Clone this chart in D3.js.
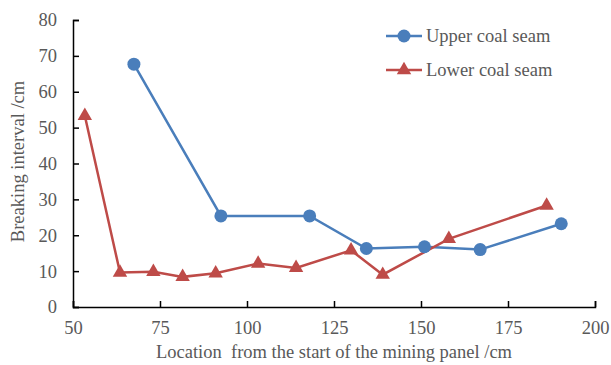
<!DOCTYPE html>
<html>
<head>
<meta charset="utf-8">
<script src="https://cdn.jsdelivr.net/npm/d3@7"></script>
<style>
  body { margin: 0; background: #fff; }
  svg text { font-family: "Liberation Serif", "Times New Roman", Times, "DejaVu Serif", serif; fill: #595959; }
</style>
</head>
<body>
<div id="chart"></div>
<script>
// data
var upperX = [67.5, 92.5, 118, 134.3, 151, 167, 190.3];
var upperY = [67.7, 25.4, 25.4, 16.3, 16.8, 16.0, 23.2];
var lowerX = [53.4, 63.5, 73.1, 81.5, 91, 103.2, 114.1, 129.9, 139, 158, 186.1];
var lowerY = [53.3, 9.6, 9.8, 8.4, 9.4, 12.1, 10.9, 15.8, 9.0, 19.0, 28.3];
var xTicks = [50, 75, 100, 125, 150, 175, 200];
var yTicks = [0, 10, 20, 30, 40, 50, 60, 70, 80];

var svgWidth = 611, svgHeight = 365;
var margin = { top: 20, right: 16, bottom: 58, left: 73 };
var width = svgWidth - margin.left - margin.right;
var height = svgHeight - margin.top - margin.bottom;
var fontSize = "18.5px";

var svg = d3.select("#chart").append("svg")
  .attr("width", svgWidth)
  .attr("height", svgHeight);

var chartGroup = svg.append("g")
  .attr("transform", `translate(${margin.left}, ${margin.top})`);

var x = d3.scaleLinear().domain([50, 200]).range([0, width]);
var y = d3.scaleLinear().domain([0, 80]).range([height, 0]);

// axes with inward ticks
var xAxis = chartGroup.append("g")
  .attr("transform", `translate(0, ${height})`)
  .call(d3.axisBottom(x).tickValues(xTicks).tickSizeInner(-6).tickSizeOuter(-6).tickPadding(14));
var yAxis = chartGroup.append("g")
  .call(d3.axisLeft(y).tickValues(yTicks).tickSizeInner(-6).tickSizeOuter(-6).tickPadding(16));

[xAxis, yAxis].forEach(function (a) {
  a.attr("font-family", null).attr("font-size", null);
  a.selectAll("path, line").attr("stroke", "#000").attr("stroke-width", 1.5);
  a.selectAll("text").attr("font-size", fontSize);
});

var upper = upperX.map((v, i) => [v, upperY[i]]);
var lower = lowerX.map((v, i) => [v, lowerY[i]]);

var line = d3.line().x(d => x(d[0])).y(d => y(d[1]));
var blue = "#4a7ebb", red = "#be4b48";

chartGroup.append("path").datum(upper)
  .attr("d", line).attr("fill", "none").attr("stroke", blue).attr("stroke-width", 2.5);
chartGroup.append("path").datum(lower)
  .attr("d", line).attr("fill", "none").attr("stroke", red).attr("stroke-width", 2.5);

var tri = d3.symbol().type(d3.symbolTriangle).size(90);

chartGroup.selectAll(".up").data(upper).enter().append("circle")
  .attr("cx", d => x(d[0])).attr("cy", d => y(d[1]))
  .attr("r", 6.5).attr("fill", blue);

chartGroup.selectAll(".low").data(lower).enter().append("path")
  .attr("d", tri)
  .attr("transform", d => `translate(${x(d[0])}, ${y(d[1])})`)
  .attr("fill", red);

// legend
var legend = svg.append("g");
legend.append("line").attr("x1", 386).attr("x2", 422).attr("y1", 36).attr("y2", 36)
  .attr("stroke", blue).attr("stroke-width", 2.5);
legend.append("circle").attr("cx", 404).attr("cy", 36).attr("r", 6.5).attr("fill", blue);
legend.append("text").attr("x", 426).attr("y", 42).attr("font-size", fontSize).text("Upper coal seam");

legend.append("line").attr("x1", 386).attr("x2", 422).attr("y1", 70).attr("y2", 70)
  .attr("stroke", red).attr("stroke-width", 2.5);
legend.append("path").attr("d", tri).attr("transform", "translate(404, 70)").attr("fill", red);
legend.append("text").attr("x", 426).attr("y", 76).attr("font-size", fontSize).text("Lower coal seam");

// axis titles
svg.append("text")
  .attr("transform", "rotate(-90)")
  .attr("x", -(margin.top + height / 2 - 2))
  .attr("y", 24)
  .attr("text-anchor", "middle")
  .attr("font-size", fontSize)
  .text("Breaking interval /cm");

svg.append("text")
  .attr("x", margin.left + width / 2)
  .attr("y", 358)
  .attr("text-anchor", "middle")
  .attr("font-size", fontSize)
  .style("white-space", "pre")
  .text("Location  from the start of the mining panel /cm");
</script>
</body>
</html>
